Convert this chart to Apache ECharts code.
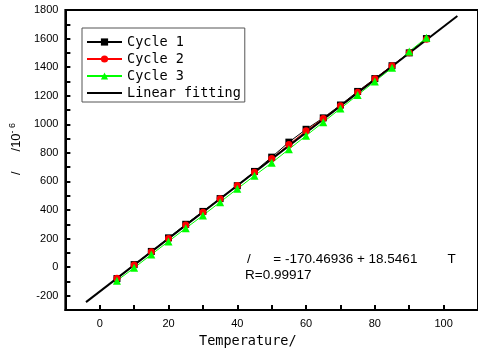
<!DOCTYPE html>
<html><head><meta charset="utf-8">
<script src="https://cdn.jsdelivr.net/npm/echarts@6/dist/echarts.min.js"></script>
<style>html,body{margin:0;padding:0;background:#fff}#c{width:478px;height:356px}</style>
</head><body><div id="c"></div>
<script>
const temps = [5,10,15,20,25,30,35,40,45,50,55,60,65,70,75,80,85,90,95];
const cycle1 = [-80,18,110,205,300,390,480,570,670,770,875,965,1045,1135,1230,1320,1410,1500,1600];
const cycle2 = [-78,15,108,200,295,385,478,572,665,760,858,955,1040,1130,1225,1318,1410,1500,1595];
const cycle3 = [-95,-5,88,180,272,362,455,548,640,730,825,920,1015,1110,1205,1300,1395,1510,1605];
const fitX = [-4,104];
const fitY = [-245,1758];
const yTicks = [-200,0,200,400,600,800,1000,1200,1400,1600,1800];
const xTicks = [0,20,40,60,80,100];

const pairs = (xs, ys) => xs.map((x,i)=>[x, ys[i]]);
const chart = echarts.init(document.getElementById('c'));
const sansMono = '"DejaVu Sans Mono", monospace';
chart.setOption({
  animation:false,
  backgroundColor:'#fff',
  grid:{left:64,top:10,right:-4,bottom:46,show:true,borderColor:'#000',borderWidth:2,containLabel:false},
  legend:{
    left:82, top:28, orient:'vertical', itemWidth:35, itemHeight:9, itemGap:3,
    padding:[7,4,2,4], borderColor:'#555', borderWidth:1,
    textStyle:{fontFamily:sansMono,fontSize:13.5,color:'#000',lineHeight:14},
    data:['Cycle 1','Cycle 2','Cycle 3',{name:'Linear fitting',itemStyle:{opacity:0}}]
  },
  xAxis:{
    type:'value', min:-10, max:110, interval:10,
    axisLine:{show:true,onZero:false,lineStyle:{color:'#000',width:2}},
    axisTick:{show:true,inside:true,length:5,lineStyle:{color:'#000',width:2}},
    splitLine:{show:false},
    axisLabel:{fontFamily:'"Liberation Sans", Arial',fontSize:11,color:'#000',margin:8,
      formatter:v=> xTicks.includes(v)? String(v):'', showMinLabel:false, showMaxLabel:false}
  },
  yAxis:{
    type:'value', min:-300, max:1800, interval:100,
    axisLine:{show:true,onZero:false,lineStyle:{color:'#000',width:2}},
    axisTick:{show:true,inside:true,length:5,lineStyle:{color:'#000',width:2}},
    splitLine:{show:false},
    axisLabel:{fontFamily:'"Liberation Sans", Arial',fontSize:11,color:'#000',margin:7,
      formatter:v=> yTicks.includes(v)? String(v):'', showMinLabel:false},
    name:'{a|/}      {a|/10}{s|- 6}', nameLocation:'middle', nameGap:40, nameRotate:90,
    nameTextStyle:{rich:{a:{fontFamily:'"Liberation Sans", Arial',fontSize:13,color:'#000'},
      s:{fontFamily:'"Liberation Sans", Arial',fontSize:9,color:'#000',verticalAlign:'top',padding:[0,0,8,0]}},
      padding:[0,0,0,22]}
  },
  graphic:[
    {type:'text',left:199,top:334,style:{text:'Temperature/',fontFamily:sansMono,fontSize:13.5,fill:'#000'}},
    {type:'text',left:247,top:252,style:{text:'/      = -170.46936 + 18.5461        T',fontFamily:'"Liberation Sans", Arial',fontSize:13.5,fill:'#000'}},
    {type:'text',left:245,top:268,style:{text:'R=0.99917',fontFamily:'"Liberation Sans", Arial',fontSize:13.5,fill:'#000'}}
  ],
  series:[
    {name:'Cycle 1',type:'line',data:pairs(temps,cycle1),symbol:'rect',symbolSize:7,
      lineStyle:{color:'#000',width:1},itemStyle:{color:'#000'}},
    {name:'Cycle 2',type:'line',data:pairs(temps,cycle2),symbol:'circle',symbolSize:7,
      lineStyle:{color:'#ff0000',width:1},itemStyle:{color:'#ff0000'}},
    {name:'Cycle 3',type:'line',data:pairs(temps,cycle3),symbol:'triangle',symbolSize:8,
      lineStyle:{color:'#00ff00',width:1},itemStyle:{color:'#00ff00'}},
    {name:'Linear fitting',type:'line',data:pairs(fitX,fitY),symbol:'none',
      lineStyle:{color:'#000',width:2},itemStyle:{color:'#000'}}
  ]
});
</script></body></html>
